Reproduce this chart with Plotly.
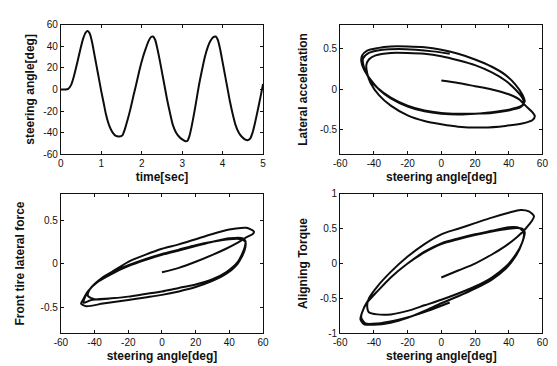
import plotly.graph_objects as go

# ---------------- data ----------------
time_sec = [0, 0.1, 0.18, 0.25, 0.32, 0.4, 0.48, 0.55, 0.61, 0.66, 0.71, 0.77, 0.83, 0.88, 0.94,
            1.0, 1.06, 1.12, 1.2, 1.28, 1.36, 1.45, 1.52, 1.58, 1.65, 1.72, 1.8, 1.87, 1.95,
            2.03, 2.1, 2.17, 2.23, 2.28, 2.33, 2.39, 2.45, 2.51, 2.57, 2.63, 2.7, 2.77, 2.85,
            2.93, 3.01, 3.08, 3.13, 3.18, 3.24, 3.3, 3.36, 3.42, 3.49, 3.56, 3.63, 3.7, 3.77,
            3.83, 3.88, 3.94, 4.0, 4.06, 4.12, 4.18, 4.25, 4.32, 4.4, 4.48, 4.56, 4.62, 4.68,
            4.74, 4.8, 4.87, 4.93, 5.0]
steer_time = [0, 0, 0.5, 4, 12, 24, 37, 47, 52.5, 54, 52, 44, 32, 22, 10,
              -2, -13, -24, -34, -40, -43, -43.5, -42.5, -37, -28, -18, -5, 6, 19,
              30, 38, 45, 48.5, 49, 46, 37, 26, 14, 2, -10, -22, -33, -40,
              -44, -46.5, -48, -47.5, -43, -33, -21, -8, 5, 18, 30, 39, 45, 48.5,
              49, 46, 37, 25, 13, 1, -11, -23, -33, -40, -44, -46.5, -47, -45.5,
              -40, -31, -19, -8, 5]

lat_steer = [0, 10, 20, 30, 40, 46, 50, 54, 55.5,
             54, 48, 38, 25, 10, 0, -10, -20, -30, -37, -42, -44, -44.5,
             -43, -39, -30, -20, -10, 0, 10, 20, 30, 38, 44, 48, 49,
             47, 40, 30, 20, 10, 0, -10, -20, -30, -37, -42, -46, -47.5, -47,
             -44, -38, -30, -20, -10, 0, 10, 20, 30, 38, 44, 48, 49.5,
             47, 40, 30, 20, 10, 0, -10, -20, -30, -38, -43, -46, -46.5,
             -43, -35, -25, -15, -5, 5]
lat_acc = [0.11, 0.08, 0.04, 0.0, -0.06, -0.12, -0.2, -0.28, -0.33,
           -0.38, -0.42, -0.45, -0.47, -0.46, -0.43, -0.39, -0.32, -0.2, -0.07, 0.08, 0.2, 0.3,
           0.37, 0.42, 0.45, 0.45, 0.44, 0.41, 0.36, 0.3, 0.21, 0.11, 0.0, -0.1, -0.17,
           -0.22, -0.26, -0.29, -0.3, -0.31, -0.3, -0.27, -0.21, -0.11, 0.0, 0.12, 0.25, 0.35, 0.42,
           0.48, 0.51, 0.53, 0.53, 0.52, 0.49, 0.44, 0.37, 0.28, 0.18, 0.06, -0.06, -0.15,
           -0.21, -0.25, -0.28, -0.3, -0.3, -0.29, -0.26, -0.2, -0.1, 0.02, 0.14, 0.28, 0.38,
           0.45, 0.49, 0.5, 0.49, 0.47, 0.44]

ftf_steer = [0, 10, 20, 30, 38, 45, 50, 54, 54.5,
             50, 40, 30, 20, 10, 0, -10, -20, -30, -38, -43, -44,
             -40, -30, -20, -10, 0, 10, 20, 30, 38, 45, 49, 49.5,
             48, 40, 30, 20, 10, 0, -10, -20, -30, -38, -44, -47, -48,
             -45, -35, -20, -10, 0, 10, 20, 30, 38, 45, 49, 49.5,
             47, 40, 30, 20, 10, 0, -10, -20, -30, -38, -43, -46, -46.5,
             -42, -30, -20, -10, 0, 5]
ftf_force = [-0.1, -0.05, 0.02, 0.1, 0.17, 0.24, 0.3, 0.34, 0.37,
             0.41, 0.39, 0.34, 0.28, 0.22, 0.17, 0.1, 0.02, -0.1, -0.2, -0.3, -0.37,
             -0.41, -0.4, -0.38, -0.35, -0.32, -0.28, -0.24, -0.18, -0.1, 0.02, 0.18, 0.26,
             0.29, 0.29, 0.25, 0.2, 0.15, 0.1, 0.04, -0.03, -0.12, -0.21, -0.32, -0.42, -0.46,
             -0.49, -0.46, -0.42, -0.39, -0.36, -0.32, -0.27, -0.2, -0.12, 0.0, 0.15, 0.25,
             0.28, 0.28, 0.25, 0.21, 0.16, 0.11, 0.05, -0.02, -0.1, -0.2, -0.3, -0.4, -0.45,
             -0.42, -0.4, -0.38, -0.35, -0.32, -0.3]

at_steer = [0, 10, 20, 30, 38, 45, 50, 54, 55,
            52, 47, 40, 30, 20, 10, 0, -10, -20, -30, -38, -43, -44,
            -43, -38, -30, -20, -10, 0, 10, 20, 30, 38, 44, 48, 49, 47,
            45, 40, 30, 20, 10, 0, -10, -20, -30, -38, -44, -47, -48,
            -46, -40, -30, -20, -10, 0, 10, 20, 30, 38, 44, 48, 49.5, 48,
            45, 40, 30, 20, 10, 0, -10, -20, -30, -38, -44, -47, -47.5,
            -45, -38, -28, -18, -8, 5]
at_torque = [-0.2, -0.1, 0.0, 0.13, 0.25, 0.38, 0.5, 0.62, 0.68,
             0.75, 0.77, 0.73, 0.66, 0.58, 0.5, 0.42, 0.28, 0.1, -0.12, -0.33, -0.5, -0.6,
             -0.7, -0.73, -0.73, -0.68, -0.6, -0.52, -0.43, -0.33, -0.2, -0.05, 0.12, 0.3, 0.43, 0.5,
             0.52, 0.52, 0.47, 0.42, 0.36, 0.29, 0.17, 0.0, -0.2, -0.4, -0.55, -0.7, -0.8,
             -0.87, -0.88, -0.85, -0.78, -0.68, -0.57, -0.47, -0.36, -0.23, -0.08, 0.1, 0.3, 0.45, 0.5,
             0.51, 0.5, 0.46, 0.41, 0.35, 0.28, 0.16, 0.0, -0.2, -0.4, -0.56, -0.7, -0.78,
             -0.86, -0.86, -0.82, -0.76, -0.68, -0.56]

x_ticks_time = [0, 1, 2, 3, 4, 5]
y_ticks_angle = [-60, -40, -20, 0, 20, 40, 60]
x_ticks_steer = [-60, -40, -20, 0, 20, 40, 60]
y_ticks_half = [-0.5, 0, 0.5]
y_ticks_torque = [-1, -0.5, 0, 0.5, 1]

# ---------------- figure ----------------
W, H = 557, 366
fig = go.Figure()

line_style = dict(color="#0d0d0d", width=2.0, shape="spline", smoothing=0.7)
fig.add_trace(go.Scatter(x=time_sec, y=steer_time, mode="lines", line=line_style, xaxis="x", yaxis="y"))
fig.add_trace(go.Scatter(x=lat_steer, y=lat_acc, mode="lines", line=line_style, xaxis="x2", yaxis="y2"))
fig.add_trace(go.Scatter(x=ftf_steer, y=ftf_force, mode="lines", line=line_style, xaxis="x3", yaxis="y3"))
fig.add_trace(go.Scatter(x=at_steer, y=at_torque, mode="lines", line=line_style, xaxis="x4", yaxis="y4"))

def px_x(a, b):
    return [a / W, b / W]

def px_y(top, bottom):
    return [1 - bottom / H, 1 - top / H]

tick_font = dict(family="Liberation Sans, Arial, sans-serif", size=10, color="#111111")
title_font = dict(family="Liberation Sans, Arial, sans-serif", size=12, color="#111111", weight="bold")

def ax(domain, rng, tickvals, anchor, title, standoff):
    return dict(domain=domain, range=rng, tickvals=tickvals,
                ticktext=[("%g" % v) for v in tickvals],
                showgrid=False, zeroline=False, showline=True, linecolor="#111111",
                linewidth=1.2, mirror="ticks", ticks="inside", ticklen=3,
                tickcolor="#111111", tickwidth=1, tickfont=tick_font, anchor=anchor,
                title=dict(text=title, font=title_font, standoff=standoff))

L1, R1 = 47, 254
L2, R2 = 333, 540
T1, B1 = 11, 145
T2, B2 = 186, 330

fig.update_layout(
    width=W, height=H, margin=dict(l=0, r=0, t=0, b=0),
    paper_bgcolor="white", plot_bgcolor="white", showlegend=False,
    xaxis=ax(px_x(L1, R1), [0, 5], x_ticks_time, "y", "time[sec]", 4),
    yaxis=ax(px_y(T1, B1), [-60, 60], y_ticks_angle, "x", "steering angle[deg]", 6),
    xaxis2=ax(px_x(L2, R2), [-60, 60], x_ticks_steer, "y2", "steering angle[deg]", 4),
    yaxis2=ax(px_y(T1, B1), [-0.8, 0.8], y_ticks_half, "x2", "Lateral acceleration", 9),
    xaxis3=ax(px_x(L1, R1), [-60, 60], x_ticks_steer, "y3", "steering angle[deg]", 4),
    yaxis3=ax(px_y(T2, B2), [-0.8, 0.8], y_ticks_half, "x3", "Front tire lateral force", 13),
    xaxis4=ax(px_x(L2, R2), [-60, 60], x_ticks_steer, "y4", "steering angle[deg]", 4),
    yaxis4=ax(px_y(T2, B2), [-1, 1], y_ticks_torque, "x4", "Aligning Torque", 9),
)

fig.write_html("out.html")
